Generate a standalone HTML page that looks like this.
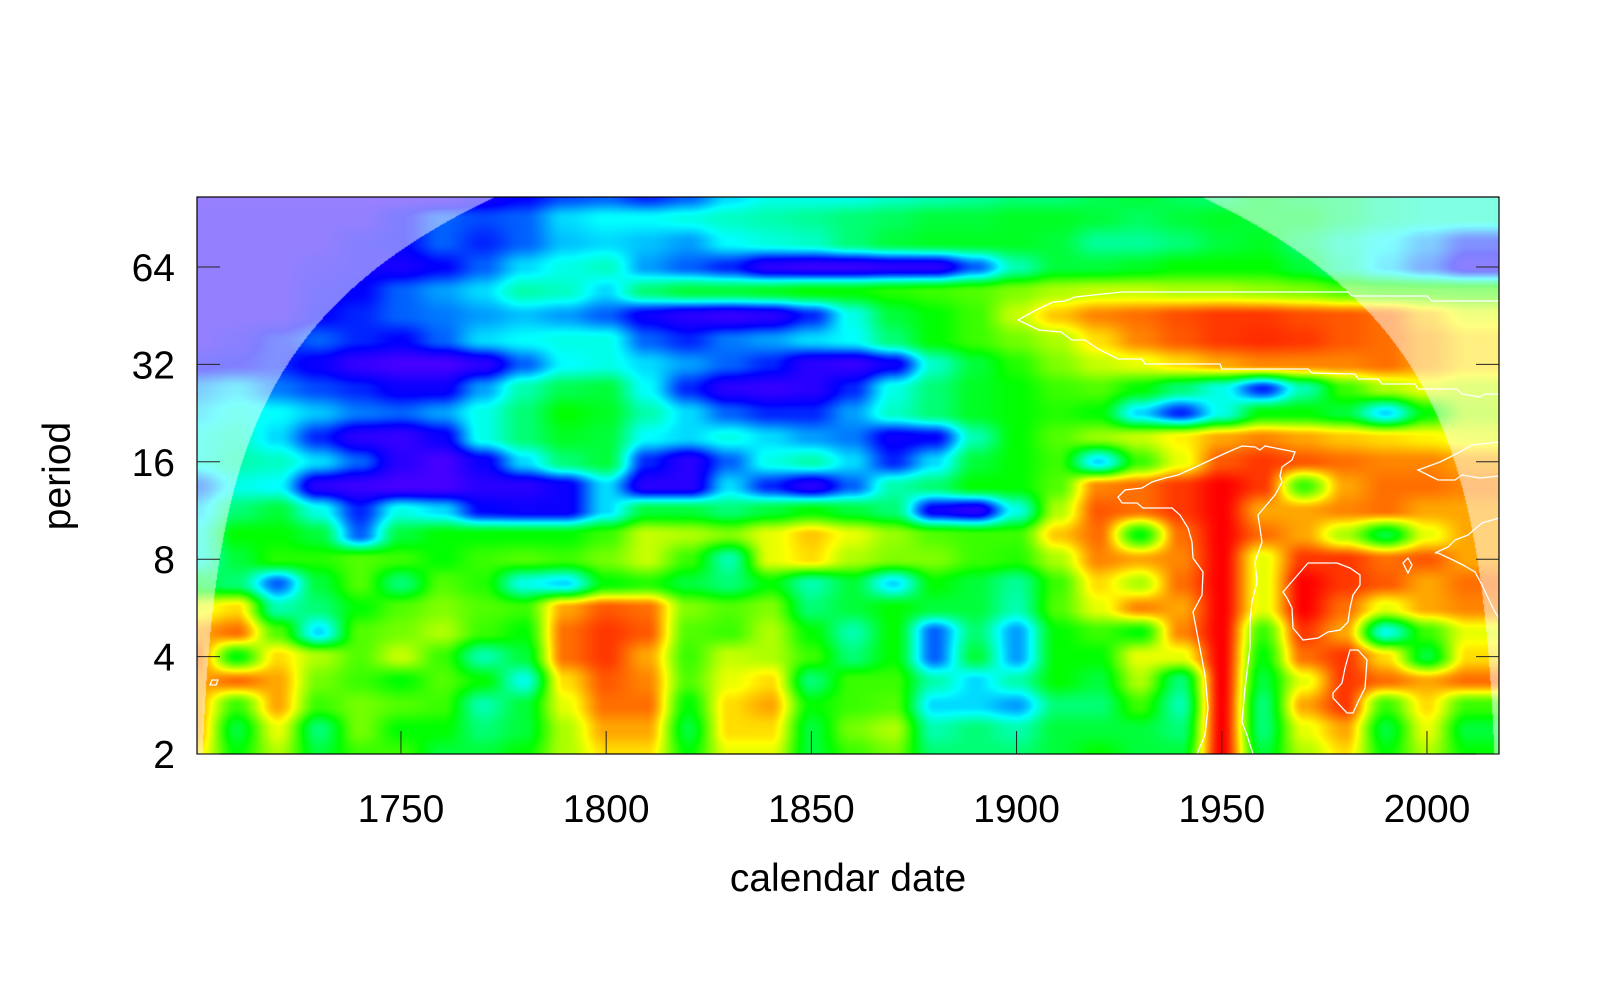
<!DOCTYPE html>
<html><head><meta charset="utf-8">
<style>
html,body{margin:0;padding:0;background:#fff;}
#wrap{position:relative;width:1600px;height:1000px;font-family:"Liberation Sans",sans-serif;}
canvas{position:absolute;left:197px;top:197px;}
svg{position:absolute;left:0;top:0;}
</style></head>
<body>
<div id="wrap">
<canvas id="hm" width="1302" height="557"></canvas>
<svg width="1600" height="1000" id="ax">
<g fill="none" stroke="#fff" stroke-width="1.3">
<path d="M1018,320 L1036,310 L1053,302 L1065,301 L1075,297 L1122,292 L1348,292 L1352,296 L1427,296 L1432,301 L1499,301 M1499,394 L1485,394 L1480,397 L1462,394 L1457,389 L1418,389 L1415,384 L1382,384 L1378,379 L1358,379 L1355,374 L1312,373 L1308,369 L1222,369 L1220,364 L1145,364 L1142,359 L1118,359 L1098,349 L1085,340 L1072,340 L1065,335 L1061,332 L1039,330 L1018,320"/>
<path d="M1178,475 L1202,464 L1228,452 L1242,446 L1255,447 L1260,450 L1265,446 L1295,452 L1292,460 L1282,467 L1280,476 L1282,482 L1275,495 L1258,515 L1262,542 L1255,562 L1257,582 L1252,602 L1250,622 L1250,648 L1245,688 L1242,722 L1247,735 L1253,754 M1197,754 L1205,735 L1208,708 L1205,675 L1198,638 L1193,612 L1202,595 L1203,572 L1193,558 L1192,542 L1188,528 L1180,515 L1172,508 L1143,508 L1137,503 L1122,503 L1118,497 L1125,490 L1142,488 L1152,482 L1165,478 L1178,475"/>
<path d="M1308,563 L1337,563 L1350,568 L1360,575 L1360,585 L1353,595 L1350,608 L1348,622 L1340,630 L1328,632 L1318,638 L1303,640 L1293,628 L1292,608 L1287,598 L1283,592 L1295,578 Z"/>
<path d="M1350,650 L1358,650 L1367,660 L1365,688 L1358,702 L1353,713 L1347,713 L1333,698 L1333,693 L1342,683 L1345,668 Z"/>
<path d="M1403,563 L1408,558 L1412,565 L1408,573 Z"/>
<path d="M1499,518 L1482,523 L1468,535 L1455,540 L1448,547 L1435,553 L1438,553 L1453,560 L1463,565 L1475,572 L1482,585 L1490,602 L1495,612 L1499,618"/>
<path d="M1499,442 L1472,445 L1458,453 L1440,462 L1418,470 L1430,476 L1438,480 L1455,480 L1462,475 L1480,478 L1499,476"/>
<path d="M212,680 L218,680 L216,685 L210,685 Z"/>
</g>
<rect x="197" y="197" width="1302" height="557" fill="none" stroke="#000" stroke-width="1.2"/>
<g id="ticks"></g>
<text x="70" y="476" font-size="39" text-anchor="middle" transform="rotate(-90 70 476)">period</text>
<text x="848" y="891" font-size="39" text-anchor="middle">calendar date</text>
</svg>
</div>
<script>
// Wavelet power grid: columns = years, rows = log2(period)
const years = [1700,1710,1720,1730,1740,1750,1760,1770,1780,1790,1800,1810,1820,1830,1840,1850,1860,1870,1880,1890,1900,1910,1920,1930,1940,1950,1960,1970,1980,1990,2000,2010];
const log2Periods = [6.72,6.5,6.25,6.0,5.75,5.5,5.25,5.0,4.75,4.5,4.25,4.0,3.75,3.5,3.25,3.0,2.75,2.5,2.25,2.0,1.75,1.5,1.25,1.0];
const r672 = [0.03,0.03,0.03,0.03,0.03,0.03,0.03,0.08,0.12,0.18,0.2,0.15,0.2,0.3,0.35,0.35,0.35,0.38,0.4,0.42,0.45,0.45,0.48,0.5,0.47,0.45,0.5,0.47,0.45,0.4,0.38,0.38];
const r650 = [0.05,0.05,0.05,0.05,0.05,0.12,0.2,0.18,0.2,0.3,0.33,0.33,0.35,0.38,0.4,0.42,0.45,0.47,0.5,0.5,0.52,0.52,0.5,0.47,0.5,0.52,0.5,0.5,0.45,0.4,0.38,0.38];
const r625 = [0.05,0.05,0.05,0.05,0.1,0.12,0.2,0.15,0.2,0.28,0.3,0.28,0.25,0.33,0.36,0.38,0.45,0.5,0.52,0.52,0.52,0.5,0.42,0.42,0.45,0.5,0.52,0.45,0.38,0.33,0.25,0.15];
const r600 = [0.05,0.05,0.05,0.08,0.1,0.08,0.12,0.2,0.3,0.35,0.38,0.25,0.2,0.15,0.05,0.03,0.03,0.05,0.05,0.2,0.4,0.5,0.5,0.52,0.55,0.55,0.55,0.5,0.4,0.3,0.2,0.08];
const r575 = [0.05,0.05,0.05,0.1,0.12,0.2,0.25,0.3,0.4,0.38,0.3,0.45,0.5,0.5,0.52,0.55,0.55,0.58,0.6,0.62,0.66,0.7,0.72,0.72,0.7,0.7,0.68,0.66,0.62,0.6,0.6,0.6];
const r550 = [0.05,0.05,0.05,0.12,0.15,0.2,0.22,0.25,0.28,0.25,0.2,0.1,0.05,0.03,0.05,0.15,0.35,0.5,0.55,0.6,0.72,0.82,0.88,0.9,0.93,0.95,0.95,0.93,0.92,0.9,0.82,0.75];
const r525 = [0.05,0.08,0.15,0.2,0.15,0.12,0.2,0.3,0.33,0.35,0.35,0.2,0.15,0.22,0.25,0.3,0.33,0.45,0.55,0.6,0.65,0.7,0.8,0.88,0.92,0.95,0.96,0.95,0.92,0.9,0.85,0.8];
const r500 = [0.1,0.12,0.15,0.1,0.03,0.0,0.0,0.05,0.2,0.33,0.35,0.3,0.25,0.2,0.15,0.05,0.03,0.1,0.38,0.5,0.58,0.66,0.72,0.75,0.8,0.85,0.88,0.88,0.88,0.9,0.85,0.8];
const r475 = [0.25,0.3,0.22,0.18,0.15,0.1,0.1,0.25,0.4,0.48,0.5,0.33,0.15,0.05,0.03,0.05,0.15,0.35,0.45,0.52,0.55,0.6,0.62,0.55,0.45,0.35,0.15,0.4,0.6,0.7,0.75,0.72];
const r450 = [0.3,0.35,0.33,0.28,0.22,0.2,0.25,0.35,0.45,0.55,0.52,0.4,0.3,0.2,0.15,0.15,0.25,0.38,0.45,0.52,0.55,0.58,0.55,0.3,0.15,0.35,0.55,0.55,0.5,0.3,0.55,0.7];
const r425 = [0.35,0.38,0.3,0.15,0.05,0.03,0.1,0.35,0.45,0.52,0.5,0.33,0.3,0.35,0.3,0.25,0.22,0.1,0.12,0.4,0.55,0.62,0.68,0.72,0.78,0.85,0.88,0.85,0.82,0.8,0.78,0.75];
const r400 = [0.35,0.4,0.38,0.3,0.2,0.05,0.0,0.1,0.3,0.45,0.5,0.15,0.05,0.2,0.35,0.4,0.3,0.15,0.3,0.5,0.55,0.6,0.3,0.6,0.75,0.92,0.95,0.92,0.9,0.88,0.88,0.85];
const r375 = [0.2,0.35,0.33,0.05,0.02,0.0,0.0,0.05,0.05,0.1,0.3,0.05,0.05,0.3,0.15,0.05,0.2,0.4,0.45,0.55,0.55,0.62,0.88,0.9,0.95,1.0,0.95,0.6,0.85,0.9,0.9,0.88];
const r350 = [0.3,0.45,0.5,0.35,0.15,0.35,0.3,0.12,0.1,0.1,0.3,0.5,0.5,0.45,0.5,0.55,0.5,0.45,0.1,0.05,0.35,0.7,0.92,0.9,0.95,1.0,0.85,0.85,0.88,0.9,0.85,0.85];
const r325 = [0.35,0.55,0.55,0.5,0.2,0.5,0.55,0.55,0.55,0.55,0.6,0.72,0.7,0.66,0.75,0.82,0.75,0.68,0.62,0.6,0.6,0.82,0.9,0.55,0.9,1.0,0.9,0.85,0.7,0.5,0.75,0.85];
const r300 = [0.35,0.5,0.58,0.58,0.62,0.6,0.55,0.6,0.62,0.6,0.65,0.72,0.6,0.4,0.75,0.8,0.7,0.66,0.66,0.6,0.58,0.7,0.88,0.85,0.88,1.0,0.75,0.95,0.95,0.9,0.92,0.85];
const r275 = [0.5,0.45,0.2,0.5,0.62,0.45,0.62,0.58,0.35,0.3,0.55,0.58,0.5,0.45,0.55,0.4,0.5,0.3,0.55,0.5,0.42,0.6,0.8,0.7,0.9,1.0,0.75,1.0,0.95,0.92,0.85,0.9];
const r250 = [0.75,0.8,0.4,0.45,0.55,0.62,0.66,0.62,0.6,0.85,0.92,0.9,0.66,0.62,0.66,0.45,0.5,0.55,0.5,0.5,0.4,0.62,0.75,0.88,0.85,1.0,0.75,1.0,0.9,0.75,0.85,0.88];
const r225 = [0.85,0.9,0.62,0.3,0.62,0.65,0.7,0.6,0.55,0.9,0.95,0.92,0.62,0.6,0.7,0.55,0.4,0.55,0.2,0.45,0.25,0.55,0.6,0.55,0.88,1.0,0.6,0.95,0.85,0.35,0.6,0.75];
const r200 = [0.9,0.55,0.8,0.7,0.62,0.72,0.6,0.4,0.5,0.9,0.95,0.85,0.6,0.72,0.7,0.6,0.45,0.55,0.2,0.5,0.25,0.55,0.55,0.75,0.75,1.0,0.55,0.9,0.95,0.8,0.5,0.8];
const r175 = [0.85,0.9,0.85,0.65,0.6,0.55,0.62,0.55,0.35,0.8,0.92,0.88,0.62,0.75,0.8,0.45,0.6,0.6,0.4,0.3,0.4,0.55,0.5,0.7,0.45,1.0,0.5,0.75,0.95,0.9,0.85,0.9];
const r150 = [0.85,0.6,0.85,0.6,0.65,0.62,0.6,0.4,0.5,0.75,0.9,0.9,0.55,0.8,0.85,0.55,0.6,0.62,0.3,0.3,0.25,0.45,0.45,0.6,0.4,1.0,0.45,0.85,0.95,0.6,0.8,0.6];
const r125 = [0.85,0.5,0.75,0.45,0.65,0.55,0.55,0.45,0.5,0.7,0.85,0.85,0.5,0.8,0.8,0.5,0.65,0.7,0.4,0.45,0.4,0.5,0.5,0.5,0.45,1.0,0.45,0.75,0.85,0.5,0.75,0.5];
const r100 = [0.8,0.55,0.7,0.5,0.6,0.6,0.5,0.5,0.55,0.7,0.8,0.8,0.55,0.75,0.75,0.5,0.6,0.65,0.45,0.45,0.45,0.5,0.55,0.5,0.5,1.0,0.5,0.7,0.8,0.55,0.7,0.55];
const power = [r672,r650,r625,r600,r575,r550,r525,r500,r475,r450,r425,r400,r375,r350,r325,r300,r275,r250,r225,r200,r175,r150,r125,r100];
const yTickValues = [2,4,8,16,32,64];
const xTickValues = [1750,1800,1850,1900,1950,2000];

const X0=197,X1=1499,Y0=197,Y1=754;
const PX_PER_YEAR=4.104, PX_PER_OCT=97.4, T0=1700.3;
const xScale=t=>X0+(t-T0)*PX_PER_YEAR;
const yScale=p=>Y1-(Math.log2(p)-1)*PX_PER_OCT;
const xInv=px=>T0+(px-X0)/PX_PER_YEAR;
const yInv=py=>1+(Y1-py)/PX_PER_OCT;
const COI_K=1.45, COI_T0=1700.3, COI_T1=2017.8;

const stops=[[0,[70,0,255]],[0.12,[0,0,255]],[0.33,[0,255,255]],[0.55,[0,255,0]],[0.77,[255,255,0]],[1,[255,0,0]]];
function cmap(v){
  v=Math.max(0,Math.min(1,v));
  for(let i=0;i<stops.length-1;i++){
    const a=stops[i],b=stops[i+1];
    if(v<=b[0]){const f=(v-a[0])/(b[0]-a[0]);return [a[1][0]+(b[1][0]-a[1][0])*f,a[1][1]+(b[1][1]-a[1][1])*f,a[1][2]+(b[1][2]-a[1][2])*f];}
  }
  return [255,0,0];
}
function sample(t,lp){
  let ci=(t-years[0])/(years[1]-years[0]);
  ci=Math.max(0,Math.min(years.length-1,ci));
  let r;
  if(lp>=log2Periods[0]) r=0;
  else if(lp<=log2Periods[log2Periods.length-1]) r=log2Periods.length-1;
  else{ for(let k=0;k<log2Periods.length-1;k++){ if(lp<=log2Periods[k]&&lp>=log2Periods[k+1]){r=k+(log2Periods[k]-lp)/(log2Periods[k]-log2Periods[k+1]);break;} } }
  const c0=Math.floor(ci),c1=Math.min(years.length-1,c0+1),fc=ci-c0;
  const r0=Math.floor(r),r1=Math.min(log2Periods.length-1,r0+1),fr=r-r0;
  const sc=fc*fc*(3-2*fc), sr=fr*fr*(3-2*fr);
  const v00=power[r0][c0],v01=power[r0][c1],v10=power[r1][c0],v11=power[r1][c1];
  return (v00*(1-sc)+v01*sc)*(1-sr)+(v10*(1-sc)+v11*sc)*sr;
}
const cv=document.getElementById('hm');
const ctx=cv.getContext('2d');
const W=cv.width,H=cv.height;
const img=ctx.createImageData(W,H);
for(let py=0;py<H;py++){
  const lp=yInv(Y0+py+0.5),per=Math.pow(2,lp);
  for(let px=0;px<W;px++){
    const t=xInv(X0+px+0.5);
    const c=cmap(sample(t,lp));
    const dist=Math.min(t-COI_T0,COI_T1-t);
    const m=(per>COI_K*dist)?0.5:0;
    const k=(py*W+px)*4;
    img.data[k]=c[0]+(255-c[0])*m;
    img.data[k+1]=c[1]+(255-c[1])*m;
    img.data[k+2]=c[2]+(255-c[2])*m;
    img.data[k+3]=255;
  }
}
ctx.putImageData(img,0,0);

const NS='http://www.w3.org/2000/svg';
const g=document.getElementById('ticks');
yTickValues.forEach(v=>{
  const y=yScale(v);
  const l=document.createElementNS(NS,'line');
  l.setAttribute('x1',X0);l.setAttribute('x2',X0+23);l.setAttribute('y1',y);l.setAttribute('y2',y);l.setAttribute('stroke','#222');
  
  
  g.appendChild(l);
  const r=document.createElementNS(NS,'line');
  r.setAttribute('x1',X1-23);r.setAttribute('x2',X1);r.setAttribute('y1',y);r.setAttribute('y2',y);r.setAttribute('stroke','#222');
  
  
  g.appendChild(r);
  const t=document.createElementNS(NS,'text');
  t.setAttribute('x',175);t.setAttribute('y',y+14);t.setAttribute('font-size','39');t.setAttribute('text-anchor','end');
  t.textContent=v;
  
  
  g.appendChild(t);
});
xTickValues.forEach(v=>{
  const x=xScale(v);
  const l=document.createElementNS(NS,'line');
  l.setAttribute('x1',x);l.setAttribute('x2',x);l.setAttribute('y1',Y1-23);l.setAttribute('y2',Y1);l.setAttribute('stroke','#222');
  
  
  g.appendChild(l);
  const t=document.createElementNS(NS,'text');
  t.setAttribute('x',x);t.setAttribute('y',822);t.setAttribute('font-size','39');t.setAttribute('text-anchor','middle');
  t.textContent=v;
  
  
  g.appendChild(t);
});
</script>
</body></html>
